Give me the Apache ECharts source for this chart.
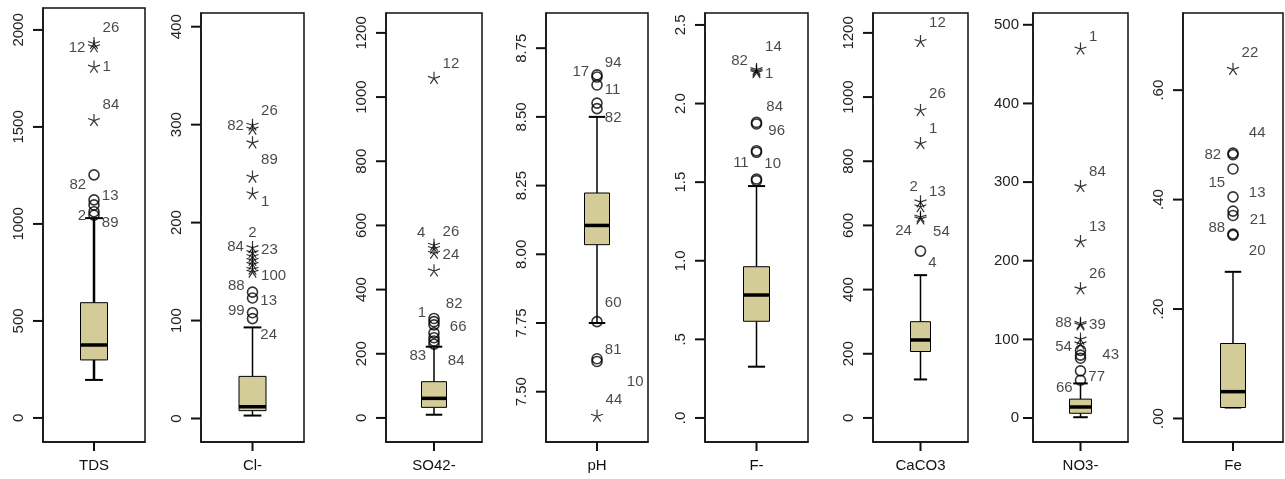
<!DOCTYPE html>
<html>
<head>
<meta charset="utf-8">
<script src="https://cdn.jsdelivr.net/npm/echarts@6/dist/echarts.min.js"></script>
<style>
  html, body { margin: 0; padding: 0; background: #fff; }
  #chart { width: 1285px; height: 479px; }
</style>
</head>
<body>
<div id="chart"></div>
<script>
// variables (one box plot per panel)
const names = ['TDS', 'Cl-', 'SO42-', 'pH', 'F-', 'CaCO3', 'NO3-', 'Fe'];

// [lower whisker, Q1, median, Q3, upper whisker]
const tdsBox = [196, 299, 376, 594, 1030];
const clBox = [3, 8, 12, 43, 93];
const so4Box = [10, 33, 61, 113, 222];
const phBox = [7.75, 8.035, 8.105, 8.223, 8.50];
const fBox = [0.326, 0.615, 0.782, 0.962, 1.475];
const caco3Box = [120, 207, 243, 300, 445];
const no3Box = [1, 6, 14, 24, 44];
const feBox = [0.02, 0.02, 0.049, 0.137, 0.268];

// outliers [value, case number]  (mild = circle, extreme = star)
const tdsMild = [[1253, '82'], [1124, '13'], [1098, ''], [1063, '2'], [1045, '89']];
const tdsExtreme = [[1933, '26'], [1916, '12'], [1811, '1'], [1536, '84']];
const clMild = [[129, '88'], [123, '13'], [108, '99'], [102, '24']];
const clExtreme = [[300, '26'], [296, '82'], [282, '89'], [247, ''], [230, '1'], [175, '2'],
  [170, '84'], [166, '23'], [162, ''], [158, ''], [153, ''], [150, '100']];
const so4Mild = [[310, '1'], [300, '82'], [290, '66'], [265, ''], [250, ''], [240, '84'], [230, '83']];
const so4Extreme = [[1060, '12'], [540, '4'], [530, '26'], [515, '24'], [460, '']];
const phMild = [[8.653, '94'], [8.645, '17'], [8.616, '11'], [8.55, ''], [8.53, '82'],
  [7.755, '60'], [7.62, '81'], [7.61, '10']];
const phExtreme = [[7.413, '44']];
const fMild = [[1.88, '84'], [1.87, '96'], [1.70, '11'], [1.69, '10'], [1.52, ''], [1.51, '']];
const fExtreme = [[2.22, '14'], [2.21, '82'], [2.20, '1']];
const caco3Mild = [[520, '4']];
const caco3Extreme = [[1175, '12'], [960, '26'], [857, '1'], [675, '2'], [660, '13'], [628, '24'], [622, '54']];
const no3Mild = [[86, ''], [80, '43'], [76, ''], [60, '77'], [48, '66']];
const no3Extreme = [[470, '1'], [295, '84'], [225, '13'], [165, '26'], [121, '88'], [119, '39'], [101, '54'], [95, '']];
const feMild = [[0.485, '44'], [0.482, '82'], [0.456, '15'], [0.405, '13'], [0.379, ''], [0.371, '21'],
  [0.337, '88'], [0.335, '20']];
const feExtreme = [[0.639, '22']];

// tick values and tick labels
const tdsTicks = [0, 500, 1000, 1500, 2000];
const tdsTickLabels = ['0', '500', '1000', '1500', '2000'];
const clTicks = [0, 100, 200, 300, 400];
const clTickLabels = ['0', '100', '200', '300', '400'];
const so4Ticks = [0, 200, 400, 600, 800, 1000, 1200];
const so4TickLabels = ['0', '200', '400', '600', '800', '1000', '1200'];
const phTicks = [7.5, 7.75, 8, 8.25, 8.5, 8.75];
const phTickLabels = ['7.50', '7.75', '8.00', '8.25', '8.50', '8.75'];
const fTicks = [0, 0.5, 1, 1.5, 2, 2.5];
const fTickLabels = ['.0', '.5', '1.0', '1.5', '2.0', '2.5'];
const caco3Ticks = [0, 200, 400, 600, 800, 1000, 1200];
const caco3TickLabels = ['0', '200', '400', '600', '800', '1000', '1200'];
const no3Ticks = [0, 100, 200, 300, 400, 500];
const no3TickLabels = ['0', '100', '200', '300', '400', '500'];
const feTicks = [0, 0.2, 0.4, 0.6];
const feTickLabels = ['.00', '.20', '.40', '.60'];

// layout / style per panel
const panels = [
  { box: tdsBox, mild: tdsMild, ext: tdsExtreme, ticks: tdsTicks, tl: tdsTickLabels,
    left: 43, top: 8, width: 102, min: -124, max: 2113, boxW: 27, lw: 2.5,
    mildPos: [['l', 10], ['r', -4], null, ['l', 4], ['r', 8]],
    extPos: [['r', -15], ['l', 2], ['r', 0], ['r', -15]] },
  { box: clBox, mild: clMild, ext: clExtreme, ticks: clTicks, tl: clTickLabels,
    left: 201, top: 13, width: 103, min: -24, max: 414, boxW: 27, lw: 1.5,
    mildPos: [['l', -6], ['r', 3], ['l', -2], ['r', 16]],
    extPos: [['r', -14], ['l', -3], ['r', 18], null, ['r', 9], ['t', 2], ['l', -5], ['r', -6], null, null, null, ['r', 4]] },
  { box: so4Box, mild: so4Mild, ext: so4Extreme, ticks: so4Ticks, tl: so4TickLabels,
    left: 386, top: 13, width: 96, min: -75, max: 1262, boxW: 25, lw: 1.5,
    mildPos: [['l', -6], ['r', -18, 4], ['r', 2, 8], null, null, ['r', 20, 6], ['l', 12]],
    extPos: [['r', -14], ['l', -12], ['r', -16], ['r', 2], null] },
  { box: phBox, mild: phMild, ext: phExtreme, ticks: phTicks, tl: phTickLabels,
    left: 546, top: 13, width: 102, min: 7.317, max: 8.878, boxW: 25, lw: 1.5,
    mildPos: [['r', -12], ['l', -5], ['r', 5], null, ['r', 9], ['r', -19], ['r', -9], ['r', 20, 22]],
    extPos: [['r', -16]] },
  { box: fBox, mild: fMild, ext: fExtreme, ticks: fTicks, tl: fTickLabels,
    left: 705, top: 13, width: 103, min: -0.153, max: 2.576, boxW: 26, lw: 1.5,
    mildPos: [['r', -16, 2], ['r', 7, 4], ['l', 12], ['r', 12], null, null],
    extPos: [['r', -22], ['l', -10], ['r', 2]] },
  { box: caco3Box, mild: caco3Mild, ext: caco3Extreme, ticks: caco3Ticks, tl: caco3TickLabels,
    left: 873, top: 13, width: 95, min: -75, max: 1262, boxW: 20, lw: 1.5,
    mildPos: [['r', 12]],
    extPos: [['r', -18], ['r', -16], ['r', -14], ['l', -14, 6], ['r', -14], ['l', 14], ['r', 14, 4]] },
  { box: no3Box, mild: no3Mild, ext: no3Extreme, ticks: no3Ticks, tl: no3TickLabels,
    left: 1033, top: 13, width: 95, min: -30.5, max: 515, boxW: 22, lw: 1.5, flat: true,
    mildPos: [null, ['r', 0, 14], null, ['r', 6], ['l', 8]],
    extPos: [['r', -12], ['r', -14], ['r', -14], ['r', -14], ['l', 0], ['r', 0], ['l', 8], null] },
  { box: feBox, mild: feMild, ext: feExtreme, ticks: feTicks, tl: feTickLabels,
    left: 1183, top: 13, width: 100, min: -0.043, max: 0.741, boxW: 25, lw: 1.5,
    mildPos: [['r', -20, 8], ['l', 0, -4], ['l', 14], ['r', -4, 8], null, ['r', 4, 9], ['l', -6], ['r', 16, 8]],
    extPos: [['r', -16]] }
];

const BOTTOM = 442;
const TICK_LEN = 10;
const FONT = '"Liberation Sans", Arial, sans-serif';
const STAR = 'path://M0,0L0,-10M0,0L9.51,-3.09M0,0L5.88,8.09M0,0L-5.88,8.09M0,0L-9.51,-3.09';

function outlierPoint(item, pos) {
  const [v, id] = item;
  const d = { value: [0, v] };
  if (pos && id) {
    const side = { r: 'right', l: 'left', t: 'top' }[pos[0]];
    d.label = { show: true, formatter: id, position: side, distance: 2,
      offset: [pos[2] || 0, pos[1]] };
  } else {
    d.label = { show: false };
  }
  return d;
}

const grids = [], xAxes = [], yAxes = [], series = [];
panels.forEach((p, i) => {
  grids.push({
    left: p.left, top: p.top, width: p.width, height: BOTTOM - p.top,
    show: true, borderColor: '#111', borderWidth: 1.5, backgroundColor: 'transparent',
    containLabel: false, outerBoundsMode: 'none'
  });
  xAxes.push({
    type: 'category', gridIndex: i, data: [names[i]], position: 'bottom',
    axisLine: { show: true, onZero: false, lineStyle: { color: '#111', width: 1.5 } },
    axisTick: { show: false },
    axisLabel: { fontSize: 15, color: '#111', margin: 16, fontFamily: FONT },
    splitLine: { show: false }
  });
  yAxes.push({
    type: 'value', gridIndex: i, min: p.min, max: p.max, position: 'left',
    axisLine: { show: true, onZero: false, lineStyle: { color: '#111', width: 1.5 } },
    splitLine: { show: false },
    axisTick: { show: false },
    axisLabel: {
      customValues: p.ticks, fontSize: 15, color: '#222', fontFamily: FONT,
      rotate: p.flat ? 0 : 90, margin: p.flat ? 14 : 17,
      formatter: v => p.tl[p.ticks.indexOf(v)]
    }
  });
  // tick marks: left of the frame at each tick value, and one under the category
  series.push({
    type: 'custom', xAxisIndex: i, yAxisIndex: i, clip: false, silent: true, z: 5,
    data: p.ticks.map(v => [0, v]),
    renderItem: (params, api) => {
      const c = api.coord([0, api.value(1)]);
      const band = api.size([1, 0])[0];
      const x0 = c[0] - band / 2;
      const children = [{ type: 'rect', shape: { x: x0 - TICK_LEN, y: c[1] - 1, width: TICK_LEN, height: 2 },
        style: { fill: '#111' } }];
      if (params.dataIndex === 0) {
        const yb = api.coord([0, p.min])[1];
        children.push({ type: 'rect', shape: { x: c[0] - 1, y: yb, width: 2, height: 9 },
          style: { fill: '#111' } });
      }
      return { type: 'group', children };
    }
  });
  series.push({
    type: 'custom', xAxisIndex: i, yAxisIndex: i,
    data: [[0].concat(p.box)],
    renderItem: (params, api) => {
      const pt = k => api.coord([api.value(0), api.value(k)]);
      const x = pt(3)[0];
      const yMin = pt(1)[1], yQ1 = pt(2)[1], yMed = pt(3)[1], yQ3 = pt(4)[1], yMax = pt(5)[1];
      const hw = p.boxW / 2, cw = p.boxW * 0.33;
      const ln = (x1, y1, x2, y2, w) => ({ type: 'line', shape: { x1, y1, x2, y2 },
        style: { stroke: '#000', lineWidth: w } });
      return { type: 'group', children: [
        ln(x, yMax, x, yQ3, p.lw),
        ln(x, yQ1, x, yMin, p.lw),
        ln(x - cw, yMax, x + cw, yMax, 2),
        ln(x - cw, yMin, x + cw, yMin, 2),
        { type: 'rect', shape: { x: x - hw, y: yQ3, width: p.boxW, height: yQ1 - yQ3 },
          style: { fill: '#d4cc98', stroke: '#000', lineWidth: 1 } },
        ln(x - hw, yMed, x + hw, yMed, 3.5)
      ] };
    },
    silent: true, z: 2
  });
  const lbl = { color: '#1a1a1a', fontSize: 15, fontFamily: FONT };
  series.push({
    type: 'scatter', xAxisIndex: i, yAxisIndex: i,
    symbol: 'circle', symbolSize: 10,
    itemStyle: { color: 'transparent', borderColor: '#000', borderWidth: 1.6 },
    label: lbl,
    data: p.mild.map((it, k) => outlierPoint(it, p.mildPos[k])), z: 3
  });
  series.push({
    type: 'scatter', xAxisIndex: i, yAxisIndex: i,
    symbol: STAR, symbolSize: 12,
    itemStyle: { color: '#000', borderColor: '#000', borderWidth: 1.2 },
    label: lbl,
    data: p.ext.map((it, k) => outlierPoint(it, p.extPos[k])), z: 3
  });
});

const chart = echarts.init(document.getElementById('chart'), null, { renderer: 'canvas' });
chart.setOption({
  animation: false,
  backgroundColor: '#fff',
  grid: grids,
  xAxis: xAxes,
  yAxis: yAxes,
  series: series
});
</script>
</body>
</html>
